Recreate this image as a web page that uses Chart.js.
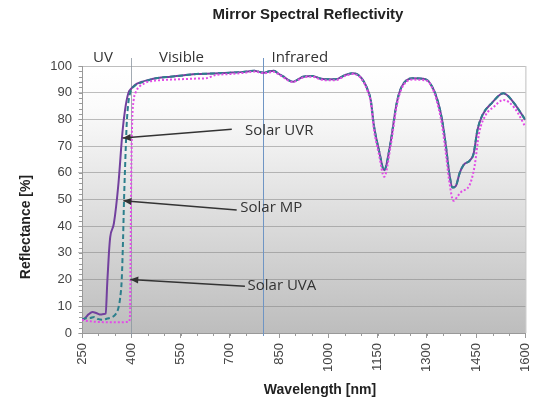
<!DOCTYPE html>
<html><head><meta charset="utf-8">
<script src="https://cdn.jsdelivr.net/npm/chart.js@4/dist/chart.umd.min.js"></script>
<style>html,body{margin:0;padding:0;background:#fff}#wrap{width:546px;height:402px}</style>
</head><body><div id="wrap"><canvas id="c" width="546" height="402"></canvas></div>
<script>
const chartTitle = 'Mirror Spectral Reflectivity';
const xTitle = 'Wavelength [nm]';
const yTitle = 'Reflectance [%]';
const xTickValues = [250, 400, 550, 700, 850, 1000, 1150, 1300, 1450, 1600];
const yTickValues = [0, 10, 20, 30, 40, 50, 60, 70, 80, 90, 100];
const seriesNames = ['Solar UVR', 'Solar MP', 'Solar UVA'];

const uvrWl = [250, 258, 270, 282, 295, 307, 317, 322, 327, 332, 336, 347, 361, 373, 381, 391, 400, 411, 430, 450, 480, 519, 560, 598, 650, 700, 740, 775, 790, 804, 820, 834, 850, 864, 880, 893, 908, 923, 952, 975, 991, 1021, 1051, 1075, 1100, 1120, 1129, 1139, 1154, 1170, 1189, 1208, 1223, 1257, 1297, 1321, 1335, 1346, 1358, 1368, 1378, 1388, 1400, 1412, 1430, 1442, 1454, 1469, 1499, 1533, 1563, 1600];
const uvrR  = [5, 5.4, 7, 7.9, 7.4, 6.9, 7.1, 7.3, 19, 30, 36, 41, 56, 75, 83.5, 89.8, 91.5, 92.9, 94, 94.7, 95.5, 96, 96.5, 97, 97.2, 97.5, 97.8, 98.2, 97.8, 97.5, 98, 98.2, 97, 96, 94.6, 94.1, 95, 96, 96.3, 95.3, 95, 95, 96.6, 97.3, 95.6, 91, 87.3, 77.5, 68.5, 61, 71, 86, 92.2, 95.4, 95, 91, 86, 80, 70, 60, 54.5, 55, 60, 63, 64.5, 67, 76, 81.6, 86.3, 89.8, 86.5, 79.8];

const mpWl = [250, 262, 275, 287, 300, 315, 327, 342, 352, 360, 366, 371, 375, 378, 382, 386, 391, 398, 410, 430, 450, 480, 519, 560, 598, 650, 700, 740, 775, 790, 804, 820, 834, 850, 864, 880, 893, 908, 923, 952, 975, 991, 1021, 1051, 1075, 1100, 1120, 1129, 1139, 1154, 1170, 1189, 1208, 1223, 1257, 1297, 1321, 1335, 1346, 1358, 1368, 1378, 1388, 1400, 1412, 1430, 1442, 1454, 1469, 1499, 1533, 1563, 1600];
const mpR  = [5, 5.5, 5.6, 6, 5.2, 5, 5.4, 6, 7, 9, 13, 20, 35, 50, 65, 78, 86, 90.5, 92.5, 93.8, 94.6, 95.5, 96, 96.5, 97, 97.2, 97.5, 97.8, 98.2, 97.8, 97.5, 98, 98.2, 97, 96, 94.6, 94.1, 95, 96, 96.3, 95.3, 95, 95, 96.6, 97.3, 95.6, 91, 87.3, 77.5, 68.5, 61, 71, 86, 92.2, 95.4, 95, 91, 86, 80, 70, 60, 54.5, 55, 60, 63, 64.5, 67, 76, 81.6, 86.3, 89.8, 86.5, 79.8];

const uvaWl = [250, 262, 275, 290, 310, 330, 350, 370, 385, 393, 396, 398, 400, 403, 407, 413, 425, 440, 450, 480, 520, 560, 600, 627, 657, 700, 740, 775, 790, 804, 820, 834, 850, 864, 880, 893, 908, 923, 952, 975, 991, 1021, 1051, 1075, 1100, 1120, 1129, 1139, 1154, 1170, 1189, 1208, 1223, 1257, 1297, 1321, 1335, 1346, 1358, 1368, 1381, 1395, 1405, 1430, 1445, 1459, 1479, 1504, 1533, 1568, 1600];
const uvaR  = [5, 4.6, 4.4, 4.2, 4.1, 4, 4, 4, 4.1, 4.3, 6, 30, 60, 80, 87, 90, 92.3, 93.5, 94.1, 94.6, 94.9, 95.1, 95.3, 95.4, 96.6, 97, 97.4, 97.9, 97.6, 97.3, 97.6, 97.8, 96.8, 95.7, 94.4, 94, 94.8, 95.7, 96, 95, 94.7, 94.7, 96.3, 97, 95.3, 90.5, 86.5, 76, 67, 58.5, 69.5, 85, 91.5, 94.9, 94.6, 90.5, 84.5, 78, 67, 57, 49.5, 51.5, 52.9, 55.4, 62.3, 74.8, 81.6, 84.7, 87.3, 84.1, 77.2];

const regionNames = ['UV', 'Visible', 'Infrared'];
const regionCenters = [314, 553, 913];
const dividerWl = [400, 800];
const calloutNames = ['Solar UVR', 'Solar MP', 'Solar UVA'];
const calloutTipX = [374, 376, 397];
const calloutTipY = [73, 49.5, 20];
const calloutTailX = [706, 721, 746];
const calloutTailY = [76.3, 46.1, 17.5];
const calloutTextX = [746, 732, 754];
const calloutTextY = [75.9, 46.8, 17.8];

const toPts = (xs, ys) => xs.map((x, i) => ({x: x, y: ys[i]}));

const FONT = '"Liberation Sans", Arial, sans-serif';
const LBLFONT = '"Open Sans", sans-serif';

const deco = {
  id: 'deco',
  beforeDraw(chart) {
    const ctx = chart.ctx, a = chart.chartArea;
    ctx.save();
    ctx.fillStyle = '#ffffff';
    ctx.fillRect(0, 0, chart.width, chart.height);
    const g = ctx.createLinearGradient(0, a.top, 0, a.bottom);
    g.addColorStop(0, '#ffffff');
    g.addColorStop(0.15, '#fbfbfb');
    g.addColorStop(1, '#bdbdbd');
    ctx.fillStyle = g;
    ctx.fillRect(a.left, a.top, a.right - a.left, a.bottom - a.top);
    ctx.restore();
  },
  beforeDatasetsDraw(chart) {
    const ctx = chart.ctx, a = chart.chartArea, xs = chart.scales.x, ys = chart.scales.y;
    ctx.save();
    ctx.strokeStyle = 'rgba(150,150,150,0.6)';
    ctx.lineWidth = 1;
    ctx.beginPath(); ctx.moveTo(a.right + 0.5, a.top); ctx.lineTo(a.right + 0.5, a.bottom); ctx.stroke();
    ctx.strokeStyle = '#9a9a9a';
    ctx.beginPath();
    for (let w = 250; w <= 1600; w += 50) {
      const px = Math.round(xs.getPixelForValue(w)) + 0.5;
      ctx.moveTo(px, a.bottom); ctx.lineTo(px, a.bottom + 3);
    }
    for (let v = 0; v <= 100; v += 2) {
      const py = Math.round(ys.getPixelForValue(v)) + 0.5;
      ctx.moveTo(a.left - 3, py); ctx.lineTo(a.left, py);
    }
    ctx.stroke();
    const cols = ['rgba(140,150,160,0.8)', '#6f95c4'];
    dividerWl.forEach((w, i) => {
      const px = Math.round(xs.getPixelForValue(w)) + 0.5;
      ctx.strokeStyle = cols[i];
      ctx.lineWidth = 1;
      ctx.beginPath(); ctx.moveTo(px, a.top - 8); ctx.lineTo(px, a.bottom + 3); ctx.stroke();
    });
    ctx.restore();
  },
  afterDraw(chart) {
    const ctx = chart.ctx, a = chart.chartArea, xs = chart.scales.x, ys = chart.scales.y;
    ctx.save();
    ctx.fillStyle = '#222';
    ctx.textAlign = 'center';
    ctx.textBaseline = 'middle';
    ctx.font = 'bold 15px ' + FONT;
    ctx.fillText(chartTitle, 308, 15);
    ctx.font = 'bold 14px ' + FONT;
    ctx.fillText(xTitle, 320, 390);
    ctx.save();
    ctx.translate(26, 227);
    ctx.rotate(-Math.PI / 2);
    ctx.fillText(yTitle, 0, 0);
    ctx.restore();
    ctx.font = '15px ' + LBLFONT;
    ctx.fillStyle = '#333';
    regionNames.forEach((n, i) => {
      ctx.fillText(n, xs.getPixelForValue(regionCenters[i]), a.top - 8);
    });
    ctx.textAlign = 'left';
    calloutNames.forEach((n, i) => {
      const tx = xs.getPixelForValue(calloutTipX[i]), ty = ys.getPixelForValue(calloutTipY[i]);
      const sx = xs.getPixelForValue(calloutTailX[i]), sy = ys.getPixelForValue(calloutTailY[i]);
      ctx.strokeStyle = '#333';
      ctx.lineWidth = 1.5;
      ctx.beginPath(); ctx.moveTo(sx, sy); ctx.lineTo(tx, ty); ctx.stroke();
      const ang = Math.atan2(ty - sy, tx - sx);
      const L = 8, W = 3.5;
      ctx.fillStyle = '#333';
      ctx.beginPath();
      ctx.moveTo(tx, ty);
      ctx.lineTo(tx - L * Math.cos(ang) + W * Math.sin(ang), ty - L * Math.sin(ang) - W * Math.cos(ang));
      ctx.lineTo(tx - L * Math.cos(ang) - W * Math.sin(ang), ty - L * Math.sin(ang) + W * Math.cos(ang));
      ctx.closePath(); ctx.fill();
      ctx.fillText(n, xs.getPixelForValue(calloutTextX[i]), ys.getPixelForValue(calloutTextY[i]));
    });
    ctx.restore();
  }
};

new Chart(document.getElementById('c'), {
  type: 'line',
  data: {
    datasets: [
      {label: seriesNames[2], data: toPts(uvaWl, uvaR), borderColor: '#e24ce6', borderWidth: 2, borderDash: [2, 2], pointRadius: 0, fill: false, cubicInterpolationMode: 'monotone', order: 0},
      {label: seriesNames[1], data: toPts(mpWl, mpR), borderColor: '#2c7f8c', borderWidth: 2, borderDash: [5, 3], pointRadius: 0, fill: false, cubicInterpolationMode: 'monotone', order: 1},
      {label: seriesNames[0], data: toPts(uvrWl, uvrR), borderColor: '#72409e', borderWidth: 2, pointRadius: 0, fill: false, cubicInterpolationMode: 'monotone', order: 2}
    ]
  },
  options: {
    responsive: false,
    animation: false,
    devicePixelRatio: 1,
    layout: {padding: {top: 66, left: 0, right: 7, bottom: 0}},
    plugins: {legend: {display: false}, title: {display: false}, tooltip: {enabled: false}},
    scales: {
      x: {
        type: 'linear', min: 250, max: 1600,
        afterBuildTicks: s => { s.ticks = xTickValues.map(v => ({value: v})); },
        afterFit: s => { s.height = 69; },
        ticks: {autoSkip: false, minRotation: 90, maxRotation: 90, padding: 5, color: '#444', font: {family: FONT, size: 13}, callback: v => String(v)},
        grid: {display: true, drawOnChartArea: false, tickLength: 5, color: '#999'},
        border: {color: '#999'}
      },
      y: {
        min: 0, max: 100,
        afterBuildTicks: s => { s.ticks = yTickValues.map(v => ({value: v})); },
        afterFit: s => { s.width = 82; },
        ticks: {padding: 6, color: '#444', font: {family: FONT, size: 13}, callback: v => String(v)},
        grid: {color: 'rgba(125,125,125,0.5)', tickLength: 4},
        border: {color: '#999'}
      }
    }
  },
  plugins: [deco]
});
</script>
</body></html>
